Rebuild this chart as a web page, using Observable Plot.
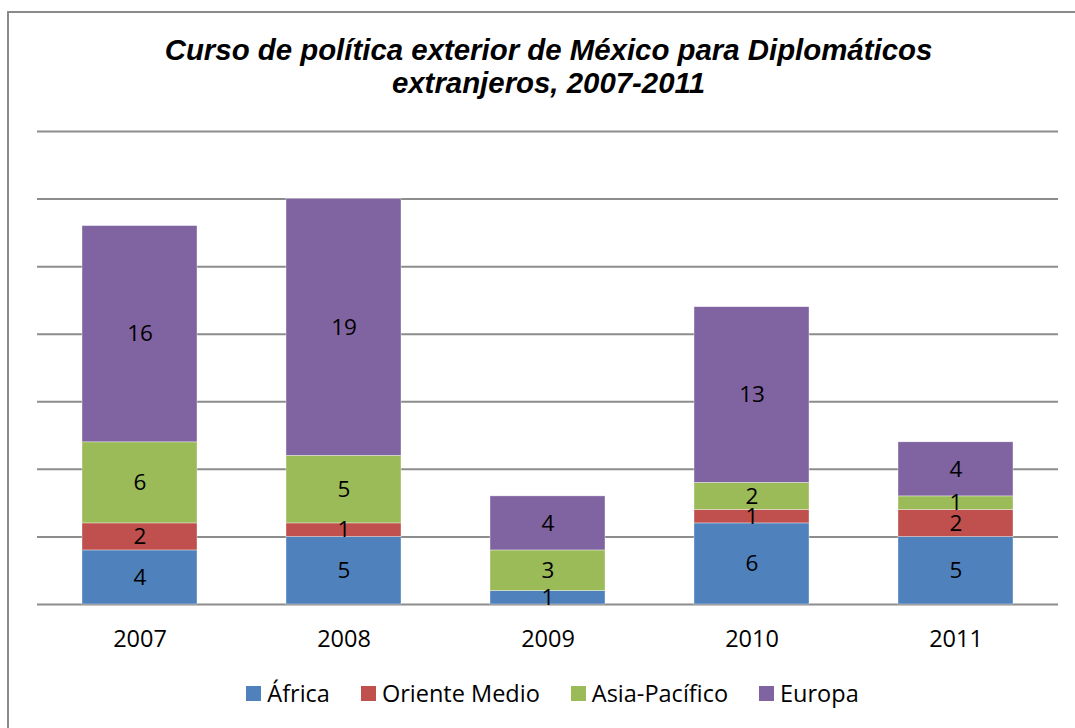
<!DOCTYPE html>
<html><head><meta charset="utf-8">
<script src="https://cdn.jsdelivr.net/npm/d3@7"></script>
<script src="https://cdn.jsdelivr.net/npm/@observablehq/plot@0.6"></script>
<style>
body{margin:0;background:#fff;width:1075px;height:728px;overflow:hidden;position:relative;font-family:"Open Sans",sans-serif;}
#frame{position:absolute;left:7px;top:11px;width:1200px;height:800px;border:2px solid #8a8a8a;box-sizing:border-box;}
#title{position:absolute;left:0;width:1097px;top:33px;text-align:center;font-family:"Liberation Sans",Arial,sans-serif;font-weight:bold;font-style:italic;font-size:29.4px;line-height:33px;color:#000;}
#chart{position:absolute;left:0;top:0;}
#legend{position:absolute;left:0;width:1105px;top:678px;display:flex;justify-content:center;gap:31px;font-size:23.5px;line-height:30px;color:#000;}
.item{display:flex;align-items:center;gap:6px}
.sw{width:15px;height:15px;display:inline-block}
</style>
</head>
<body>
<div id="frame"></div>
<div id="chart"></div>
<div id="title">Curso de política exterior de México para Diplomáticos<br>extranjeros, 2007-2011</div>
<div id="legend"></div>
<script>
const years = ["2007", "2008", "2009", "2010", "2011"];
const series = ["África", "Oriente Medio", "Asia-Pacífico", "Europa"];
const africa = [4, 5, 1, 6, 5];
const orienteMedio = [2, 1, 0, 1, 2];
const asiaPacifico = [6, 5, 3, 2, 1];
const europa = [16, 19, 4, 13, 4];
const colors = ["#4F81BD", "#C0504D", "#9BBB59", "#8064A2"];
const gridTicks = [0, 5, 10, 15, 20, 25, 30, 35];

const seriesValues = [africa, orienteMedio, asiaPacifico, europa];
const table = [];
years.forEach((year, i) => {
  series.forEach((s, j) => {
    table.push({year, series: s, value: seriesValues[j][i]});
  });
});
const labels = table.filter(d => d.value > 0);

const chart = Plot.plot({
  width: 1075,
  height: 660,
  marginTop: 131,
  marginBottom: 56,
  marginLeft: 37,
  marginRight: 17,
  style: {fontFamily: "'Open Sans', sans-serif", color: "#000", background: "transparent"},
  x: {domain: years, paddingInner: 0.437, paddingOuter: 0.21, label: null},
  y: {domain: [0, 35], axis: null},
  color: {domain: series, range: colors},
  marks: [
    Plot.ruleY(gridTicks, {stroke: "#8c8c8c", strokeWidth: 2}),
    Plot.barY(table, {x: "year", y: "value", fill: "series", order: series, stroke: "#ffffff", strokeWidth: 0.6, strokeOpacity: 0.6}),
    Plot.text(labels, Plot.stackY({x: "year", y: "value", z: "series", order: series, text: d => String(d.value), fill: "#000", fontSize: 22.5})),
    Plot.axisX({tickSize: 0, tickPadding: 26, fontSize: 23.5, label: null, fill: "#000"})
  ]
});
document.getElementById("chart").appendChild(chart);

const legend = document.getElementById("legend");
series.forEach((s, j) => {
  const item = document.createElement("div");
  item.className = "item";
  const sw = document.createElement("span");
  sw.className = "sw";
  sw.style.background = colors[j];
  const t = document.createElement("span");
  t.textContent = s;
  item.appendChild(sw);
  item.appendChild(t);
  legend.appendChild(item);
});
</script>
</body></html>
